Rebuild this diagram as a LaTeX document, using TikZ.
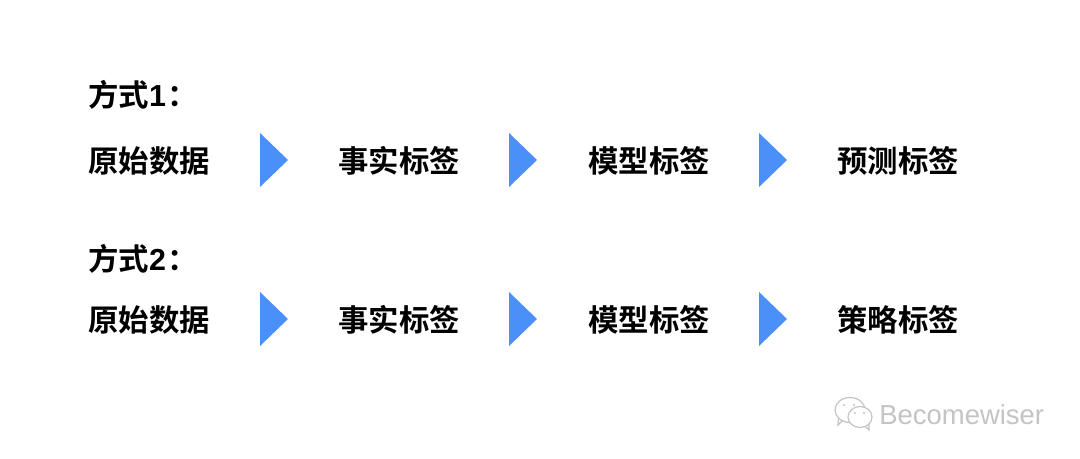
\documentclass[tikz,border=0pt]{standalone}
\usepackage{fontspec}
\newfontfamily\cjk{Noto Sans CJK SC}[BoldFont={Noto Sans CJK SC Bold}]
\setsansfont{Liberation Sans}
\definecolor{arrowblue}{HTML}{4A90F8}
\definecolor{markgray}{HTML}{C4C4C4}
\tikzset{
 lbl/.style={inner sep=0pt,font=\fontsize{22.8}{26}\selectfont\cjk\bfseries,text=black},
 hd/.style={lbl,font=\fontsize{22.8}{26}\selectfont\cjk\bfseries},
 tri/.style={fill=arrowblue,draw=none}
}
\newcommand{\triat}[2]{\fill[tri] (#1,#2+27) -- (#1+28,#2) -- (#1,#2-27) -- cycle;}
\newcommand{\dg}[1]{{\sffamily\bfseries #1}}
\begin{document}
\begin{tikzpicture}[x=0.75pt,y=-0.75pt]
\useasboundingbox (0,0) rectangle (1080,459);
\fill[white] (0,0) rectangle (1080,459);
\node[hd,anchor=west] (h1) at (88,95) {方式\dg{1}\hspace{0.05em}：};
\node[hd,anchor=west] (h2) at (88,259) {方式\dg{2}\hspace{0.05em}：};
\node[lbl,anchor=west] (a1) at (88,161) {原始数据};
\node[lbl,anchor=west] (a2) at (338,161) {事实标签};
\node[lbl,anchor=west] (a3) at (588,161) {模型标签};
\node[lbl,anchor=west] (a4) at (837,161) {预测标签};
\node[lbl,anchor=west] (b1) at (88,320) {原始数据};
\node[lbl,anchor=west] (b2) at (338,320) {事实标签};
\node[lbl,anchor=west] (b3) at (588,320) {模型标签};
\node[lbl,anchor=west] (b4) at (837,320) {策略标签};
\triat{260}{160}\triat{509}{160}\triat{759}{160}
\triat{260}{319}\triat{509}{319}\triat{759}{319}
\node[anchor=west,inner sep=0pt,text=markgray,font=\fontsize{20.6}{24}\selectfont\sffamily] (wm) at (879,415) {Becomewiser};
\begin{scope}[draw=markgray,line width=0.9pt,fill=white]
% back bubble with tail
\draw (843,420) -- (838,425) -- (838.5,417);
\filldraw (850,410) ellipse [x radius=15,y radius=12.5];
\fill[markgray] (844,405) circle (1.2) (854,405) circle (1.2);
% front bubble with tail
\filldraw (860,417) ellipse [x radius=12,y radius=10.5];
\draw (865,426) -- (869,430) -- (869,424);
\fill[markgray] (855,413) circle (1.2) (864,413) circle (1.2);
\end{scope}
\end{tikzpicture}
\end{document}
